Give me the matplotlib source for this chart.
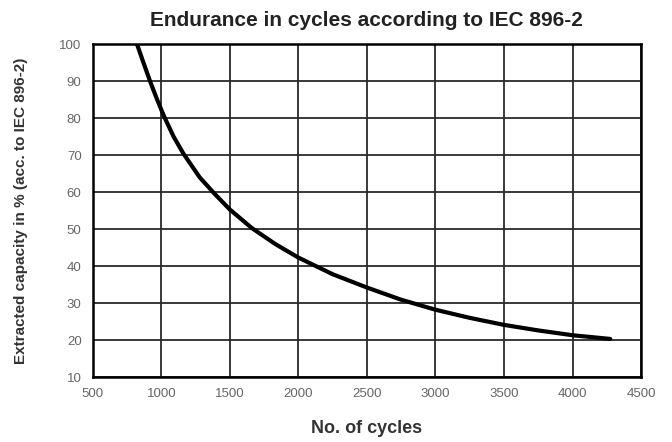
import matplotlib
matplotlib.use('Agg')
import matplotlib.pyplot as plt

plt.rcParams['font.family'] = ['Liberation Sans', 'DejaVu Sans']

# values
cycles = [823, 870, 920, 970, 1020, 1090, 1160, 1280, 1390, 1500, 1660, 1830,
          2000, 2250, 2500, 2750, 3000, 3250, 3500, 3750, 4000, 4275]
capacity = [100, 95, 89.8, 85, 80.5, 75, 70.5, 64, 59.5, 55.3, 50.3, 46,
            42.3, 37.8, 34.2, 30.9, 28.2, 26, 24.1, 22.6, 21.3, 20.3]

x_ticks = [500, 1000, 1500, 2000, 2500, 3000, 3500, 4000, 4500]
y_ticks = [10, 20, 30, 40, 50, 60, 70, 80, 90, 100]

fig = plt.figure(figsize=(6.72, 4.42), dpi=100)
ax = fig.add_axes([0.138, 0.147, 0.816, 0.753])

ax.plot(cycles, capacity, color='black', lw=3, solid_capstyle='round',
        solid_joinstyle='round')

ax.set_xlim(500, 4500)
ax.set_ylim(10, 100)
ax.set_xticks(x_ticks)
ax.set_yticks(y_ticks)
ax.set_xticklabels([str(t) for t in x_ticks])
ax.set_yticklabels([str(t) for t in y_ticks])
ax.grid(True, color='#2a2a2a', lw=1.3)
ax.tick_params(length=0, labelsize=9.5, colors='#666666', pad=8)
for s in ax.spines.values():
    s.set_linewidth(1.8)
    s.set_color('black')

ax.set_title('Endurance in cycles according to IEC 896-2', fontsize=15,
             fontweight='bold', color='#222222', pad=13)
ax.set_xlabel('No. of cycles', fontsize=13, fontweight='bold', color='#333333', labelpad=14)
ax.set_ylabel('Extracted capacity in % (acc. to IEC 896-2)', fontsize=11,
              fontweight='bold', color='#333333')
ax.yaxis.set_label_coords(-0.118, 0.5)

plt.savefig('out.png', dpi=100)
